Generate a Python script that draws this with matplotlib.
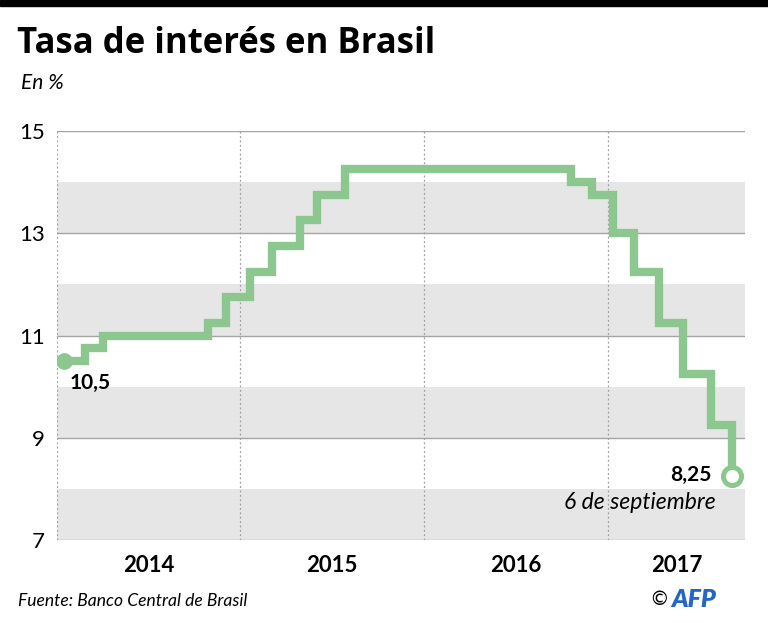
import datetime as dt
import matplotlib
matplotlib.use("Agg")
import matplotlib.pyplot as plt
from matplotlib.patches import Rectangle

# Selic rate decisions (date, rate in %)
dates = ["2014-01-15", "2014-02-26", "2014-04-02", "2014-10-29", "2014-12-03",
         "2015-01-21", "2015-03-04", "2015-04-29", "2015-06-03", "2015-07-29",
         "2016-10-19", "2016-11-30", "2017-01-11", "2017-02-22", "2017-04-12",
         "2017-05-31", "2017-07-26", "2017-09-06"]
rates = [10.5, 10.75, 11.0, 11.25, 11.75,
         12.25, 12.75, 13.25, 13.75, 14.25,
         14.0, 13.75, 13.0, 12.25, 11.25,
         10.25, 9.25, 8.25]
years = [2014, 2015, 2016, 2017]
yticks = [7, 9, 11, 13, 15]
bands = [(7, 8), (9, 10), (11, 12), (13, 14)]

x = [dt.datetime.strptime(d, "%Y-%m-%d") for d in dates]
green = "#8bc78e"
font = "Lato"

fig = plt.figure(figsize=(7.68, 6.23), dpi=100)
fig.patches.append(Rectangle((0, 0.991), 1, 0.009, transform=fig.transFigure,
                             color="black", zorder=5))

ax = fig.add_axes([0.0742, 0.1332, 0.8958, 0.6565])
x0 = dt.datetime(2014, 1, 1)
x1 = dt.datetime(2017, 10, 1)
ax.set_xlim(x0, x1)
ax.set_ylim(7, 15)

for lo, hi in bands:
    ax.axhspan(lo, hi, color="#e6e6e6", lw=0, zorder=0)
for yv in yticks:
    ax.axhline(yv, color="#a5a5a5", lw=1, zorder=1)
for yr in years:
    ax.axvline(dt.datetime(yr, 1, 1), color="#a0a0a0", lw=0.9,
               ls=(0, (1.5, 2)), zorder=1)

ax.step(x, rates, where="post", color=green, lw=6, zorder=3,
        solid_joinstyle="miter")
ax.plot(x[0], rates[0], "o", color=green, ms=11, zorder=4)
ax.plot(x[-1], rates[-1], "o", mfc="white", mec=green, mew=3.6, ms=13, zorder=4)

ax.annotate("10,5", (x[0], rates[0]), xytext=(19, -16), textcoords="offset points",
            ha="center", va="center", fontsize=15, fontweight="bold", family=font)
ax.annotate("8,25", (x[-1], rates[-1]), xytext=(-15, 1), textcoords="offset points",
            ha="right", va="center", fontsize=15, fontweight="bold", family=font)
ax.annotate("6 de septiembre", (x[-1], rates[-1]), xytext=(-12, -19),
            textcoords="offset points", ha="right", va="center", fontsize=16.5,
            style="italic", family=font)

for s in ax.spines.values():
    s.set_visible(False)
ax.set_yticks(yticks)
ax.set_yticklabels([str(v) for v in yticks], fontsize=16, family=font)
ax.tick_params(axis="y", length=0, pad=9)

# year labels centred in visible span of each year
ax.set_xticks([])
for yr in years:
    a = max(dt.datetime(yr, 1, 1), x0)
    b = min(dt.datetime(yr + 1, 1, 1), x1)
    mid = a + (b - a) / 2
    ax.text(mid, -0.063, str(yr), transform=ax.get_xaxis_transform(),
            ha="center", va="center", fontsize=16, fontweight="bold", family=font)

fig.text(0.022, 0.930, "Tasa de interés en Brasil", fontsize=25, fontweight="bold",
         family="Open Sans", va="center")
fig.text(0.027, 0.866, "En %", fontsize=15, style="italic", family=font, va="center")
fig.text(0.023, 0.035, "Fuente: Banco Central de Brasil", fontsize=12.6,
         style="italic", family=font, va="center")
fig.text(0.871, 0.038, "©", fontsize=14, family="DejaVu Sans", ha="right", va="center")
fig.text(0.874, 0.038, "AFP", fontsize=18, fontweight="heavy", style="italic",
         color="#2566c4", family=font, va="center")

fig.savefig("out.png", dpi=100)
